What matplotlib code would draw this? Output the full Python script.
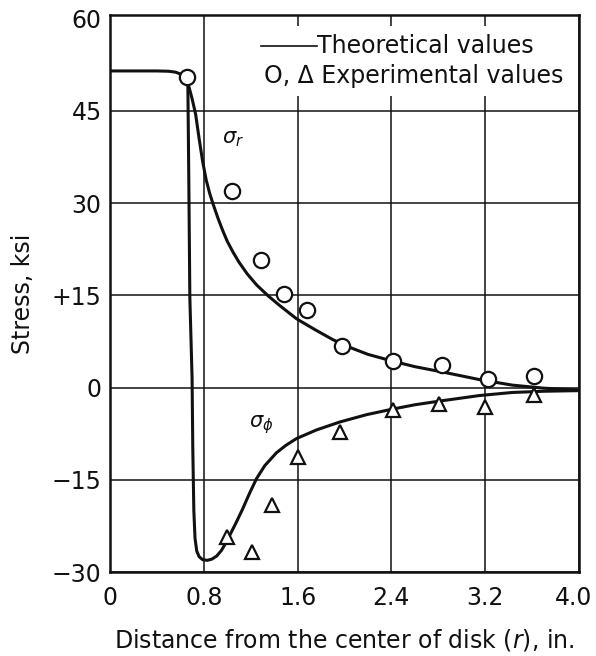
import matplotlib
matplotlib.use("Agg")
import matplotlib.pyplot as plt
from matplotlib.patches import Rectangle
from matplotlib.transforms import ScaledTranslation

plt.rcParams['font.family'] = ['DejaVu Sans']
plt.rcParams['mathtext.fontset'] = 'custom'
plt.rcParams['mathtext.it'] = 'DejaVu Sans:italic'
plt.rcParams['mathtext.rm'] = 'DejaVu Sans'

# Theoretical radial stress curve (r in., stress ksi)
sr_theory_r = [0.0, 0.40, 0.50, 0.56, 0.60, 0.63, 0.655, 0.675, 0.70, 0.73, 0.76, 0.79,
               0.82, 0.85, 0.88, 0.92, 0.96, 1.00, 1.05, 1.10, 1.17, 1.25, 1.35, 1.45,
               1.59, 1.75, 1.90, 2.05, 2.20, 2.41, 2.60, 2.87, 3.15, 3.43, 3.70, 4.0]
sr_theory_s = [51.5, 51.5, 51.45, 51.3, 51.0, 50.6, 50.0, 48.8, 47.0, 44.5, 40.5, 36.8,
               33.8, 31.6, 29.8, 27.6, 25.6, 23.8, 22.0, 20.4, 18.5, 16.7, 14.9, 13.3,
               11.2, 9.4, 7.8, 6.5, 5.4, 4.3, 3.4, 2.4, 1.3, 0.4, -0.1, -0.4]

# Theoretical tangential stress curve
sp_theory_r = [0.664, 0.672, 0.681, 0.700, 0.706, 0.715, 0.725, 0.74, 0.76, 0.79, 0.83,
               0.87, 0.91, 0.95, 0.99, 1.03, 1.08, 1.13, 1.19, 1.25, 1.32, 1.42, 1.50,
               1.59, 1.76, 1.96, 2.19, 2.41, 2.60, 2.81, 3.00, 3.15, 3.43, 3.70, 4.0]
sp_theory_s = [49.4, 34.0, 14.6, 1.6, -9.7, -20.0, -24.5, -26.6, -27.5, -28.0, -28.1,
               -27.9, -27.4, -26.5, -25.2, -23.7, -21.8, -19.8, -17.2, -14.8, -12.7, -10.6, -9.4,
               -8.3, -6.9, -5.6, -4.4, -3.5, -2.8, -2.2, -1.7, -1.3, -0.8, -0.6, -0.5]

# Experimental values
sr_exp_r = [0.66, 1.04, 1.29, 1.48, 1.68, 1.98, 2.41, 2.83, 3.22, 3.62]
sr_exp_s = [50.5, 32.0, 20.7, 15.2, 12.6, 6.8, 4.4, 3.6, 1.4, 1.9]
sp_exp_r = [1.00, 1.21, 1.38, 1.60, 1.96, 2.41, 2.81, 3.20, 3.62]
sp_exp_s = [-24.3, -26.7, -19.1, -11.3, -7.3, -3.6, -2.7, -3.1, -1.2]

xticks = [0, 0.8, 1.6, 2.4, 3.2, 4.0]
xtick_labels = ["0", "0.8", "1.6", "2.4", "3.2", "4.0"]
yticks = [-30, -15, 0, 15, 30, 45, 60]
ytick_labels = ["\u221230", "\u221215", "0", "+15", "30", "45", "60"]

W, H = 596, 656
fig = plt.figure(figsize=(W / 100, H / 100), dpi=100)
ax = fig.add_axes([110 / W, 1 - 572 / H, (579 - 110) / W, (572 - 15) / H])

ink = '#111111'
fs = 17
ax.set_xlim(0, 4.0)
ax.set_ylim(-29.6, 60.6)
ax.set_xticks(xticks)
ax.set_xticklabels(xtick_labels)
ax.set_yticks(yticks)
ax.set_yticklabels(ytick_labels)
ax.tick_params(length=0, labelsize=fs, colors=ink)
ax.tick_params(axis='x', pad=10)
ax.tick_params(axis='y', pad=6)
ax.grid(True, color=ink, linewidth=1.1)
ax.set_axisbelow(True)
ax.get_ygridlines()[-1].set_visible(False)
for sp in ax.spines.values():
    sp.set_linewidth(1.8)
    sp.set_color(ink)

# nudge the last x tick label so it stays inside the canvas
last_lbl = ax.get_xticklabels()[-1]
last_lbl.set_transform(last_lbl.get_transform() +
                       ScaledTranslation(-5 / 100, 0, fig.dpi_scale_trans))

ax.plot(sr_theory_r, sr_theory_s, color=ink, lw=2.2, zorder=3)
ax.plot(sp_theory_r, sp_theory_s, color=ink, lw=2.2, zorder=3)
ax.plot(sr_exp_r, sr_exp_s, linestyle='none', marker='o', ms=11, mfc='white',
        mec=ink, mew=1.6, zorder=4)
ax.plot(sp_exp_r, sp_exp_s, linestyle='none', marker='^', ms=10, mfc='white',
        mec=ink, mew=1.6, zorder=4)

ax.text(1.05, 40.5, r'$\sigma_r$', fontsize=15, color=ink, ha='center', va='center')
ax.text(1.29, -6.1, r'$\sigma_\phi$', fontsize=15, color=ink, ha='center', va='center')

# legend block
ax.add_patch(Rectangle((0.29, 0.855), 0.70, 0.125, transform=ax.transAxes,
                       facecolor='white', edgecolor='none', zorder=2))
ax.plot([0.323, 0.442], [0.945, 0.945], transform=ax.transAxes, color=ink, lw=1.2, zorder=3)
ax.text(0.442, 0.945, 'Theoretical values', transform=ax.transAxes, fontsize=fs,
        color=ink, ha='left', va='center', zorder=3)
ax.text(0.967, 0.891, 'O, \u0394 Experimental values', transform=ax.transAxes,
        fontsize=fs, color=ink, ha='right', va='center', zorder=3)

ax.set_ylabel('Stress, ksi', fontsize=fs, color=ink, labelpad=12)
ax.set_xlabel(r'Distance from the center of disk ($\it{r}$), in.', fontsize=fs,
              color=ink, labelpad=12)

fig.savefig('out.png', dpi=100)
